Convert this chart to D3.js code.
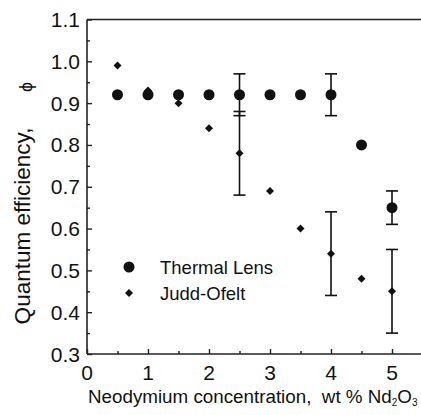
<!DOCTYPE html>
<html><head><meta charset="utf-8">
<script src="https://cdn.jsdelivr.net/npm/d3@7"></script>
<style>body{margin:0;background:#fff}svg{display:block}text{font-family:"Liberation Sans",Arial,sans-serif;fill:#111;white-space:pre}</style>
</head><body><svg id="c" width="421" height="415"></svg>
<script>
const concentration = [0.5, 1, 1.5, 2, 2.5, 3, 3.5, 4, 4.5, 5];
const thermalLens = [0.92, 0.92, 0.92, 0.92, 0.92, 0.92, 0.92, 0.92, 0.80, 0.65];
const juddOfelt = [0.99, 0.93, 0.90, 0.84, 0.78, 0.69, 0.60, 0.54, 0.48, 0.45];
const tlErrX = [2.5, 4, 5];
const tlErrLow = [0.87, 0.87, 0.61];
const tlErrHigh = [0.97, 0.97, 0.69];
const joErrX = [2.5, 4, 5];
const joErrLow = [0.68, 0.44, 0.35];
const joErrHigh = [0.88, 0.64, 0.55];
const xTicks = [0, 1, 2, 3, 4, 5];
const yTicks = [0.3, 0.4, 0.5, 0.6, 0.7, 0.8, 0.9, 1.0, 1.1];
const legendLabels = ["Thermal Lens", "Judd-Ofelt"];

const svg = d3.select("#c");
const x = d3.scaleLinear().domain([0, 5]).range([87, 392]);
const y = d3.scaleLinear().domain([0.3, 1.1]).range([354, 19.5]);
const xEnd = 421;

// frame lines (left, bottom, top)
svg.append("line").attr("x1", x(0)).attr("x2", x(0)).attr("y1", y(1.1)).attr("y2", y(0.3)).attr("stroke", "#222").attr("stroke-width", 1.6);
svg.append("line").attr("x1", x(0)).attr("x2", xEnd).attr("y1", y(0.3)).attr("y2", y(0.3)).attr("stroke", "#222").attr("stroke-width", 1.6);
svg.append("line").attr("x1", x(0)).attr("x2", xEnd).attr("y1", y(1.1)).attr("y2", y(1.1)).attr("stroke", "#222").attr("stroke-width", 1.6);

const styleTicks = g => { g.select(".domain").remove(); g.selectAll("line").attr("stroke", "#222").attr("stroke-width", 1.4); };

// x axis ticks inward
const xMinor = d3.range(0.5, 5.5, 1);
svg.append("g").attr("transform", `translate(0,${y(0.3)})`)
  .call(d3.axisTop(x).tickValues(xTicks).tickSize(5).tickFormat("")).call(styleTicks);
svg.append("g").attr("transform", `translate(0,${y(0.3)})`)
  .call(d3.axisTop(x).tickValues(xMinor).tickSize(3).tickFormat("")).call(styleTicks);
svg.append("g").selectAll("text").data(xTicks).join("text")
  .attr("x", d => x(d)).attr("y", 380).attr("text-anchor", "middle")
  .attr("font-size", 21).text(d => d);

// y axis ticks inward
const yMinor = d3.range(0.35, 1.1, 0.1);
svg.append("g").attr("transform", `translate(${x(0)},0)`)
  .call(d3.axisRight(y).tickValues(yTicks).tickSize(5).tickFormat("")).call(styleTicks);
svg.append("g").attr("transform", `translate(${x(0)},0)`)
  .call(d3.axisRight(y).tickValues(yMinor).tickSize(3).tickFormat("")).call(styleTicks);
svg.append("g").selectAll("text").data(yTicks).join("text")
  .attr("x", 80).attr("y", d => y(d) + 7.5).attr("text-anchor", "end")
  .attr("font-size", 21).text(d => d.toFixed(1));

// axis titles
const xt = svg.append("text").attr("x", 88).attr("y", 403).attr("font-size", 18.8);
xt.append("tspan").text("Neodymium concentration,  wt % Nd");
xt.append("tspan").attr("font-size", 10).attr("dy", 3).text("2");
xt.append("tspan").attr("dy", -3).text("O");
xt.append("tspan").attr("font-size", 10).attr("dy", 3).text("3");

svg.append("text").attr("transform", "translate(30,226) rotate(-90)").attr("text-anchor", "middle")
  .attr("font-size", 22.5).text("Quantum efficiency,");
svg.append("text").attr("transform", "translate(32,87) rotate(-90)").attr("text-anchor", "middle")
  .attr("font-size", 18).text("\u03D5");

// error bars
function errBars(xs, lo, hi) {
  const g = svg.append("g").attr("stroke", "#111").attr("stroke-width", 1.6);
  xs.forEach((xv, i) => {
    g.append("line").attr("x1", x(xv)).attr("x2", x(xv)).attr("y1", y(lo[i])).attr("y2", y(hi[i]));
    [lo[i], hi[i]].forEach(v => g.append("line").attr("x1", x(xv) - 6).attr("x2", x(xv) + 6).attr("y1", y(v)).attr("y2", y(v)));
  });
}
errBars(tlErrX, tlErrLow, tlErrHigh);
errBars(joErrX, joErrLow, joErrHigh);

const diamond = "M0,-4L4,0L0,4L-4,0Z";
// points
svg.append("g").selectAll("path").data(concentration).join("path")
  .attr("d", diamond).attr("transform", (d, i) => `translate(${x(d)},${y(juddOfelt[i])})`).attr("fill", "#111");
svg.append("g").selectAll("circle").data(concentration).join("circle")
  .attr("cx", d => x(d)).attr("cy", (d, i) => y(thermalLens[i])).attr("r", 5.5).attr("fill", "#111");

// legend
svg.append("circle").attr("cx", 129).attr("cy", 267).attr("r", 5.5).attr("fill", "#111");
svg.append("path").attr("d", diamond).attr("transform", "translate(129,293)").attr("fill", "#111");
svg.append("g").selectAll("text").data(legendLabels).join("text")
  .attr("x", 160).attr("y", (d, i) => 274 + i * 26).attr("font-size", 18.5).text(d => d);
</script></body></html>
